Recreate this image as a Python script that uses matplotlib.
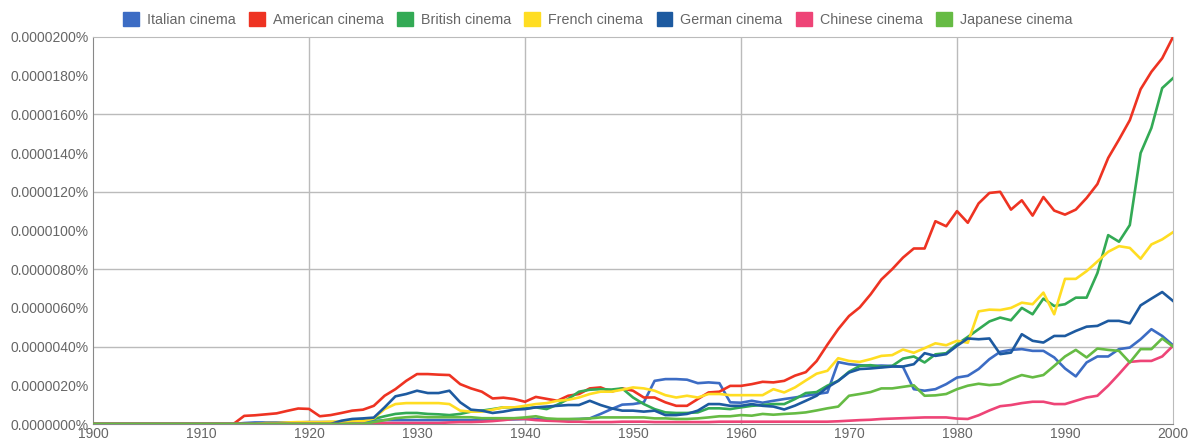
import numpy as np
import matplotlib
matplotlib.use("Agg")
import matplotlib.pyplot as plt
from matplotlib.patches import Patch
from matplotlib.ticker import FuncFormatter, MultipleLocator

plt.rcParams['font.family'] = ['Liberation Sans', 'DejaVu Sans']

years = list(range(1900, 2001))

# values in units of 0.000001 %  (so 20 -> 0.0000200%)
italian = [
    0, 0, 0, 0, 0, 0, 0, 0, 0, 0,
    0, 0, 0, 0, 0.05, 0.08, 0.08, 0.08, 0.08, 0.08,
    0.1, 0.1, 0.1, 0.1, 0.1, 0.1, 0.15, 0.2, 0.2, 0.2,
    0.2, 0.2, 0.2, 0.2, 0.2, 0.2, 0.22, 0.22, 0.24, 0.24,
    0.26, 0.26, 0.24, 0.24, 0.24, 0.26, 0.29, 0.52, 0.77, 1.0,
    1.03, 1.12, 2.23, 2.32, 2.32, 2.29, 2.11, 2.15, 2.11, 1.12,
    1.1, 1.2, 1.1, 1.2, 1.29, 1.37, 1.46, 1.55, 1.63, 3.2,
    3.09, 3.04, 3.0, 3.02, 3.0, 2.95, 1.8, 1.72, 1.8, 2.06,
    2.4, 2.49, 2.84, 3.35, 3.73, 3.83, 3.87, 3.78, 3.78, 3.44,
    2.87, 2.46, 3.18, 3.49, 3.49, 3.87, 3.95, 4.38, 4.9, 4.55,
    4.07]

american = [
    0, 0, 0, 0, 0, 0, 0, 0, 0, 0,
    0, 0, 0, 0, 0.42, 0.45, 0.5, 0.55, 0.68, 0.8,
    0.78, 0.4, 0.46, 0.57, 0.69, 0.74, 0.94, 1.46, 1.8, 2.23,
    2.58, 2.58, 2.55, 2.53, 2.06, 1.84, 1.67, 1.32, 1.36, 1.29,
    1.15, 1.4, 1.3, 1.2, 1.46, 1.55, 1.84, 1.89, 1.67, 1.84,
    1.72, 1.37, 1.37, 1.12, 0.94, 0.94, 1.29, 1.63, 1.67, 1.97,
    1.97, 2.06, 2.18, 2.15, 2.23, 2.5, 2.68, 3.25, 4.1, 4.9,
    5.58, 6.03, 6.7, 7.47, 8.0, 8.6, 9.07, 9.07, 10.48, 10.22,
    11.0, 10.4, 11.4, 11.94, 12.0, 11.08, 11.56, 10.77, 11.73, 11.03,
    10.82, 11.08, 11.68, 12.4, 13.75, 14.7, 15.7, 17.3, 18.2, 18.9,
    20.0]

british = [
    0, 0, 0, 0, 0, 0, 0, 0, 0, 0,
    0, 0, 0, 0, 0, 0, 0, 0, 0, 0,
    0, 0, 0.05, 0.1, 0.15, 0.2, 0.26, 0.4, 0.52, 0.57,
    0.57, 0.52, 0.5, 0.46, 0.52, 0.64, 0.69, 0.77, 0.86, 0.86,
    0.8, 0.86, 0.77, 1.0, 1.29, 1.67, 1.77, 1.8, 1.78, 1.84,
    1.37, 1.03, 0.77, 0.6, 0.57, 0.57, 0.6, 0.81, 0.81, 0.77,
    0.86, 0.94, 0.98, 1.03, 1.03, 1.29, 1.6, 1.65, 1.98, 2.23,
    2.7, 3.0, 3.04, 2.95, 3.0, 3.38, 3.49, 3.18, 3.6, 3.66,
    4.12, 4.5, 4.9, 5.3, 5.5, 5.36, 6.0, 5.67, 6.48, 6.1,
    6.19, 6.53, 6.53, 7.8, 9.76, 9.42, 10.28, 14.0, 15.3, 17.36,
    17.87]

french = [
    0, 0, 0, 0, 0, 0, 0, 0, 0, 0,
    0, 0, 0, 0, 0, 0, 0.05, 0.05, 0.08, 0.1,
    0.1, 0.1, 0.12, 0.12, 0.15, 0.15, 0.29, 0.77, 1.03, 1.08,
    1.08, 1.08, 1.08, 1.03, 0.69, 0.64, 0.64, 0.74, 0.86, 0.86,
    0.94, 1.03, 1.08, 1.2, 1.25, 1.37, 1.55, 1.67, 1.67, 1.77,
    1.89, 1.84, 1.72, 1.49, 1.37, 1.46, 1.37, 1.55, 1.55, 1.49,
    1.49, 1.49, 1.49, 1.8, 1.63, 1.89, 2.25, 2.6, 2.75, 3.4,
    3.26, 3.21, 3.35, 3.52, 3.56, 3.85, 3.68, 3.92, 4.17, 4.07,
    4.3, 4.2, 5.82, 5.91, 5.89, 6.0, 6.27, 6.19, 6.79, 5.67,
    7.5, 7.5, 7.9, 8.4, 8.9, 9.19, 9.1, 8.54, 9.28, 9.54,
    9.91]

german = [
    0, 0, 0, 0, 0, 0, 0, 0, 0, 0,
    0, 0, 0, 0, 0, 0, 0, 0, 0, 0,
    0, 0, 0, 0.17, 0.26, 0.29, 0.33, 0.86, 1.43, 1.55,
    1.72, 1.6, 1.6, 1.72, 1.12, 0.74, 0.69, 0.57, 0.64, 0.74,
    0.77, 0.86, 0.9, 0.94, 0.98, 0.98, 1.2, 0.98, 0.81, 0.69,
    0.69, 0.64, 0.69, 0.46, 0.46, 0.52, 0.69, 1.03, 1.03, 0.94,
    0.94, 1.03, 0.94, 0.9, 0.75, 0.95, 1.2, 1.46, 1.89, 2.23,
    2.66, 2.84, 2.87, 2.92, 2.97, 2.97, 3.09, 3.66, 3.52, 3.61,
    4.04, 4.42, 4.38, 4.42, 3.61, 3.69, 4.64, 4.3, 4.21, 4.55,
    4.55, 4.81, 5.03, 5.07, 5.33, 5.33, 5.2, 6.13, 6.48, 6.82,
    6.36]

chinese = [
    0, 0, 0, 0, 0, 0, 0, 0, 0, 0,
    0, 0, 0, 0, 0, 0, 0, 0, 0, 0,
    0, 0, 0, 0, 0, 0, 0.03, 0.05, 0.05, 0.05,
    0.05, 0.05, 0.05, 0.08, 0.1, 0.1, 0.12, 0.15, 0.2, 0.26,
    0.26, 0.2, 0.17, 0.15, 0.12, 0.12, 0.1, 0.1, 0.1, 0.12,
    0.12, 0.12, 0.1, 0.1, 0.1, 0.1, 0.1, 0.1, 0.12, 0.12,
    0.12, 0.12, 0.12, 0.12, 0.12, 0.12, 0.12, 0.12, 0.12, 0.14,
    0.17, 0.2, 0.22, 0.26, 0.28, 0.3, 0.32, 0.34, 0.34, 0.34,
    0.28, 0.26, 0.45, 0.7, 0.92, 0.98, 1.08, 1.15, 1.15, 1.03,
    1.03, 1.2, 1.37, 1.46, 1.98, 2.58, 3.21, 3.26, 3.26, 3.49,
    4.04]

japanese = [
    0, 0, 0, 0, 0, 0, 0, 0, 0, 0,
    0, 0, 0, 0, 0, 0, 0, 0, 0, 0,
    0, 0, 0, 0, 0, 0, 0.1, 0.2, 0.3, 0.35,
    0.38, 0.35, 0.35, 0.35, 0.35, 0.35, 0.3, 0.3, 0.3, 0.3,
    0.34, 0.4, 0.29, 0.26, 0.26, 0.26, 0.29, 0.34, 0.34, 0.34,
    0.34, 0.34, 0.29, 0.29, 0.26, 0.26, 0.29, 0.34, 0.4, 0.4,
    0.46, 0.43, 0.52, 0.48, 0.52, 0.55, 0.6, 0.7, 0.81, 0.9,
    1.46, 1.55, 1.65, 1.84, 1.84, 1.92, 2.0, 1.46, 1.48, 1.55,
    1.8, 1.98, 2.08, 2.01, 2.06, 2.32, 2.53, 2.41, 2.53, 3.0,
    3.49, 3.83, 3.44, 3.9, 3.83, 3.78, 3.18, 3.87, 3.87, 4.42,
    4.0]

names = ["Italian cinema", "American cinema", "British cinema", "French cinema",
         "German cinema", "Chinese cinema", "Japanese cinema"]
series = [italian, american, british, french, german, chinese, japanese]
colors = ["#3c6cc4", "#ee3322", "#33aa55", "#ffdd22", "#1d5aa0", "#ee4477", "#66bb44"]

fig = plt.figure(figsize=(11.88, 4.40), dpi=100)
ax = fig.add_axes([93 / 1188, 16 / 440, 1080 / 1188, 387 / 440])

for vals, c in zip(series, colors):
    ax.plot(years, vals, color=c, lw=1.9, solid_joinstyle="round", zorder=3)

ax.set_xlim(1900, 2000)
ax.set_ylim(0, 20)

ax.xaxis.set_major_locator(MultipleLocator(10))
ax.yaxis.set_major_locator(MultipleLocator(2))

# gridlines every 20 years / every 0.000004%
for x in range(1920, 2000, 20):
    ax.axvline(x, color="#bbbbbb", lw=1, zorder=1)
for y in range(4, 20, 4):
    ax.axhline(y, color="#bbbbbb", lw=1, zorder=1)

ax.yaxis.set_major_formatter(FuncFormatter(lambda v, p: f"{v * 1e-6:.7f}%"))
ax.tick_params(axis="both", labelcolor="#666666", labelsize=10, length=0)
ax.tick_params(axis="y", pad=3)
ax.tick_params(axis="x", pad=2)

for side in ["left", "bottom"]:
    ax.spines[side].set_color("#888888")
for side in ["top", "right"]:
    ax.spines[side].set_color("#bbbbbb")

handles = [Patch(facecolor=c, edgecolor=c) for c in colors]
fig.legend(handles, names, loc="center", bbox_to_anchor=(0.503, 0.9557), ncol=7,
           frameon=False, fontsize=10.3, handlelength=1.1, handleheight=1.1,
           handletextpad=0.55, columnspacing=0.95, labelcolor="#666666")

fig.savefig("out.png", dpi=100)
